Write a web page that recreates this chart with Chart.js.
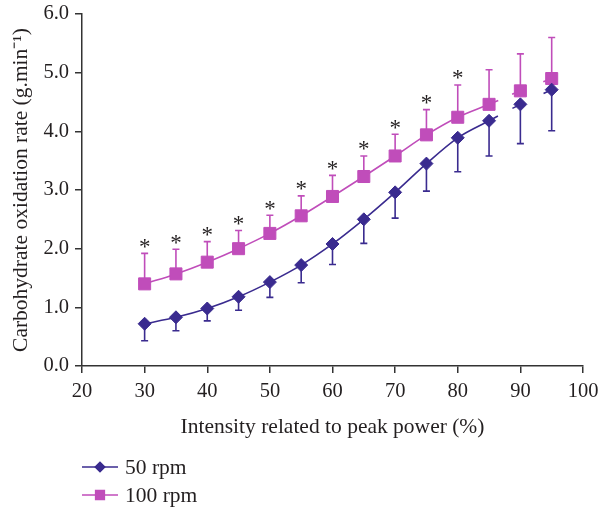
<!DOCTYPE html>
<html>
<head>
<meta charset="utf-8">
<script src="https://cdn.jsdelivr.net/npm/chart.js@4.4.1/dist/chart.umd.min.js"></script>
<style>
  html, body { margin: 0; padding: 0; background: #fff; }
  #wrap { width: 600px; height: 510px; }
</style>
</head>
<body>
<div id="wrap"><canvas id="chart" width="600" height="510"></canvas></div>
<script>
// Data
const intensity = [30, 35, 40, 45, 50, 55, 60, 65, 70, 75, 80, 85, 90, 95];
const rpm50 = [0.72, 0.83, 0.98, 1.18, 1.43, 1.72, 2.08, 2.50, 2.96, 3.45, 3.89, 4.18, 4.46, 4.71];
const sd50 = [0.29, 0.23, 0.21, 0.23, 0.26, 0.30, 0.35, 0.41, 0.44, 0.47, 0.58, 0.60, 0.67, 0.70];
const rpm100 = [1.40, 1.57, 1.77, 2.00, 2.26, 2.56, 2.89, 3.23, 3.58, 3.94, 4.24, 4.46, 4.69, 4.90];
const sd100 = [0.52, 0.42, 0.35, 0.31, 0.31, 0.34, 0.36, 0.35, 0.37, 0.43, 0.55, 0.59, 0.63, 0.70];
const significant = [true, true, true, true, true, true, true, true, true, true, true, false, false, false];
const seriesNames = ['50 rpm', '100 rpm'];

const BLUE = '#3a2b8f';
const MAGENTA = '#c04dba';
const INK = '#231f20';
const serif = '"Liberation Serif", "Times New Roman", serif';

function toPoints(ys) {
    return intensity.map((x, i) => ({ x: x, y: ys[i] }));
}

// broken line after 85 %: short stubs only
function brokenDash(c) {
    const x0 = c.p0.parsed.x;
    const d = Math.hypot(c.p1.x - c.p0.x, c.p1.y - c.p0.y);
    if (x0 === 85) return [10, Math.max(d - 19, 0), 9, 1000];
    if (x0 === 90) return [0, Math.max(d - 9, 0), 9, 1000];
    return undefined;
}

// Error bars (one-sided) drawn under the markers
const errorBars = {
    id: 'errorBars',
    beforeDatasetsDraw(chart) {
        const ctx = chart.ctx;
        const yScale = chart.scales.y;
        chart.data.datasets.forEach((ds, di) => {
            const meta = chart.getDatasetMeta(di);
            ctx.save();
            ctx.strokeStyle = ds.borderColor;
            ctx.lineWidth = 1.6;
            meta.data.forEach((pt, i) => {
                const v = ds.data[i].y;
                const end = yScale.getPixelForValue(v + ds.errorDir * ds.errors[i]);
                ctx.beginPath();
                ctx.moveTo(pt.x, pt.y);
                ctx.lineTo(pt.x, end);
                ctx.moveTo(pt.x - 3.5, end);
                ctx.lineTo(pt.x + 3.5, end);
                ctx.stroke();
            });
            ctx.restore();
        });
    }
};

// Significance asterisks above the 100 rpm error bars
const asterisks = {
    id: 'asterisks',
    afterDatasetsDraw(chart) {
        const ctx = chart.ctx;
        const xs = chart.scales.x, ys = chart.scales.y;
        ctx.save();
        ctx.fillStyle = INK;
        ctx.font = '23px ' + serif;
        ctx.textAlign = 'center';
        ctx.textBaseline = 'alphabetic';
        intensity.forEach((x, i) => {
            if (!significant[i]) return;
            const px = xs.getPixelForValue(x);
            const py = ys.getPixelForValue(rpm100[i] + sd100[i]);
            ctx.fillText('*', px, py + 0.5);
        });
        ctx.restore();
    }
};

// Legend stacked under the chart, left aligned
const stackedLegend = {
    id: 'stackedLegend',
    afterDraw(chart) {
        const ctx = chart.ctx;
        const left = chart.chartArea.left;
        const rows = [467, 495];
        ctx.save();
        chart.data.datasets.forEach((ds, i) => {
            const y = rows[i];
            ctx.strokeStyle = ds.borderColor;
            ctx.lineWidth = 1.6;
            ctx.beginPath();
            ctx.moveTo(left, y);
            ctx.lineTo(left + 36, y);
            ctx.stroke();
            Chart.helpers.drawPoint(ctx, {
                pointStyle: ds.pointStyle,
                radius: ds.pointRadius * 0.72,
                borderWidth: 1
            }, left + 18, y);
            ctx.fillStyle = ds.borderColor;
            ctx.fill();
            ctx.fillStyle = INK;
            ctx.font = '21.5px ' + serif;
            ctx.textAlign = 'left';
            ctx.textBaseline = 'middle';
            ctx.fillText(seriesNames[i], left + 43, y + 1);
        });
        ctx.restore();
    }
};

const ctx = document.getElementById('chart').getContext('2d');
new Chart(ctx, {
    type: 'line',
    data: {
        datasets: [
            {
                label: seriesNames[0],
                data: toPoints(rpm50),
                errors: sd50,
                errorDir: -1,
                borderColor: BLUE,
                backgroundColor: BLUE,
                pointBackgroundColor: BLUE,
                pointBorderColor: BLUE,
                borderWidth: 1.6,
                pointStyle: 'rectRot',
                pointRadius: 6.5,
                pointBorderWidth: 1,
                cubicInterpolationMode: 'monotone',
                segment: { borderDash: brokenDash }
            },
            {
                label: seriesNames[1],
                data: toPoints(rpm100),
                errors: sd100,
                errorDir: 1,
                borderColor: MAGENTA,
                backgroundColor: MAGENTA,
                pointBackgroundColor: MAGENTA,
                pointBorderColor: MAGENTA,
                borderWidth: 1.6,
                pointStyle: 'rect',
                pointRadius: 8.5,
                pointBorderWidth: 1,
                cubicInterpolationMode: 'monotone',
                segment: { borderDash: brokenDash }
            }
        ]
    },
    options: {
        responsive: false,
        animation: false,
        layout: { padding: { top: 14, right: 17, bottom: 0, left: 0 } },
        plugins: {
            legend: { display: false },
            tooltip: { enabled: false }
        },
        scales: {
            x: {
                type: 'linear',
                min: 20,
                max: 100,
                ticks: { stepSize: 10, color: INK, padding: 6, font: { family: serif, size: 20.5 } },
                grid: { drawOnChartArea: false, drawTicks: true, tickLength: 7, color: '#333', lineWidth: 1.5 },
                border: { color: '#333', width: 1.5 },
                title: {
                    display: true,
                    text: 'Intensity related to peak power (%)',
                    color: INK,
                    font: { family: serif, size: 21.5 },
                    padding: { top: 0, bottom: 70 }
                },
                afterFit(scale) {
                    scale.height = 144;
                    scale.paddingLeft = 0;
                    scale.paddingRight = 0;
                }
            },
            y: {
                min: 0,
                max: 6,
                ticks: {
                    stepSize: 1,
                    color: INK,
                    padding: 6,
                    font: { family: serif, size: 20.5 },
                    callback: v => v.toFixed(1)
                },
                grid: { drawOnChartArea: false, drawTicks: true, tickLength: 7, color: '#333', lineWidth: 1.5 },
                border: { color: '#333', width: 1.5 },
                title: {
                    display: true,
                    text: 'Carbohydrate oxidation rate (g.min\u207B\u00B9)',
                    color: INK,
                    font: { family: serif, size: 21.5 },
                    padding: { top: 8, bottom: 0 }
                },
                afterFit(scale) {
                    scale.width = 82;
                    scale.paddingTop = 0;
                    scale.paddingBottom = 0;
                }
            }
        }
    },
    plugins: [errorBars, asterisks, stackedLegend]
});
</script>
</body>
</html>
